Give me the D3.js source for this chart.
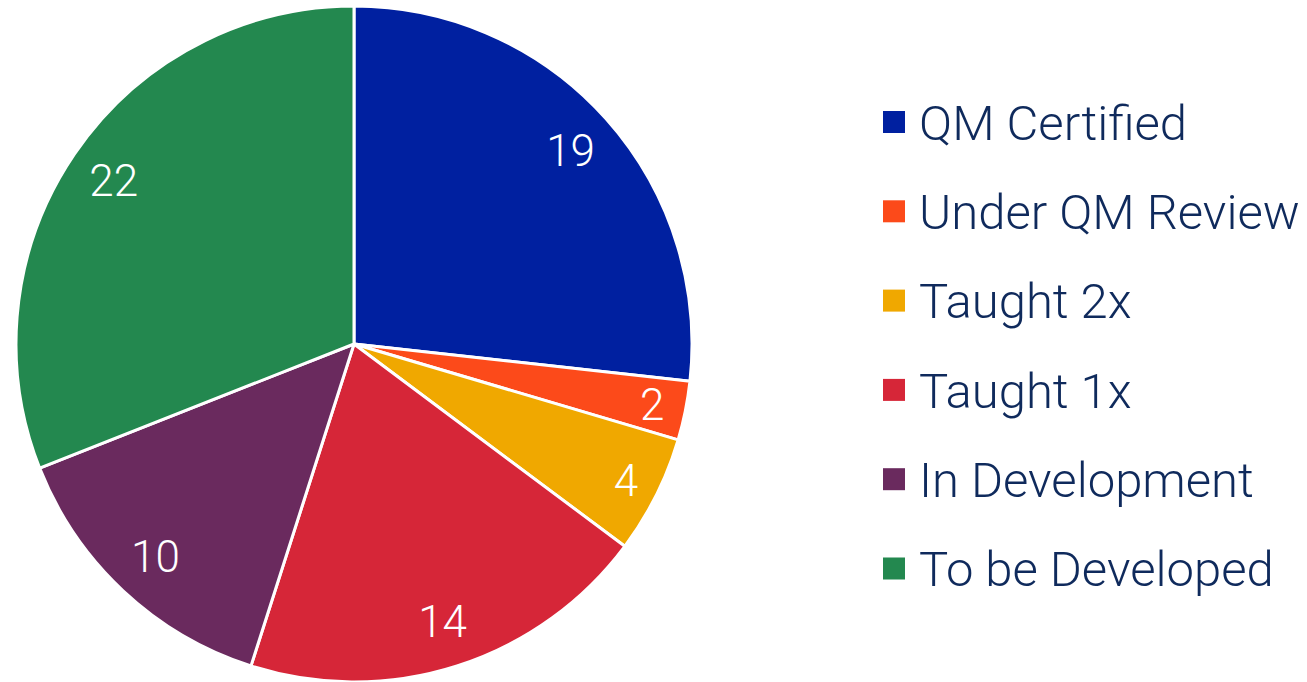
<!doctype html>
<html lang="en">
<head>
    <meta charset="utf-8">
    <title>d3 - pie chart of course status</title>
    <script src="https://cdn.jsdelivr.net/npm/d3@7"></script>
    <style>
        body { margin: 0; background: #fff; }
        svg { display: block; }
    </style>
</head>
<body>
    <svg></svg>
    <script>
        var width = 1307;
        var height = 682;

        var categories = ["QM Certified", "Under QM Review", "Taught 2x", "Taught 1x", "In Development", "To be Developed"];
        var counts = [19, 2, 4, 14, 10, 22];
        var colors = ["#0020a0", "#fc4a1a", "#f0a800", "#d62638", "#6a2a5e", "#23884f"];

        var cx = 354, cy = 344, radius = 338;

        var svg = d3.select("svg").attr("width", width).attr("height", height);

        var dataset = categories.map(function (c, i) {
            return { name: c, value: counts[i], color: colors[i] };
        });

        var pie = d3.pie().sort(null).value(function (d) { return d.value; });
        var arc = d3.arc().innerRadius(0).outerRadius(radius);

        var g = svg.append("g").attr("transform", "translate(" + cx + "," + cy + ")");

        var arcs = pie(dataset);

        g.selectAll("path")
            .data(arcs)
            .enter()
            .append("path")
            .attr("d", arc)
            .attr("fill", function (d) { return d.data.color; })
            .attr("stroke", "#fff")
            .attr("stroke-width", 3)
            .attr("stroke-linejoin", "round");

        // small slices get their label pushed further out
        var labelArc = function (d) {
            var r = d.data.value < 5 ? radius * 0.9 : radius * 0.86;
            return d3.arc().innerRadius(r).outerRadius(r).centroid(d);
        };

        g.selectAll("text")
            .data(arcs)
            .enter()
            .append("text")
            .text(function (d) { return d.data.value; })
            .attr("x", function (d) { return labelArc(d)[0]; })
            .attr("y", function (d) { return labelArc(d)[1]; })
            .attr("text-anchor", "middle")
            .attr("dy", "0.36em")
            .attr("font-family", "Roboto, sans-serif")
            .attr("font-weight", 300)
            .attr("font-size", "44px")
            .attr("fill", "#fff");

        // legend
        var legend = svg.append("g").attr("transform", "translate(883,122)");
        var item = legend.selectAll("g")
            .data(dataset)
            .enter()
            .append("g")
            .attr("transform", function (d, i) { return "translate(0," + (i * 89.3) + ")"; });

        item.append("rect")
            .attr("x", 0)
            .attr("y", -11)
            .attr("width", 22)
            .attr("height", 22)
            .attr("fill", function (d) { return d.color; });

        item.append("text")
            .text(function (d) { return d.name; })
            .attr("x", 36)
            .attr("y", 0)
            .attr("dy", "0.36em")
            .attr("font-family", "Roboto, sans-serif")
            .attr("font-weight", 300)
            .attr("font-size", "49px")
            .attr("fill", "#0f2a5c");
    </script>
</body>
</html>
